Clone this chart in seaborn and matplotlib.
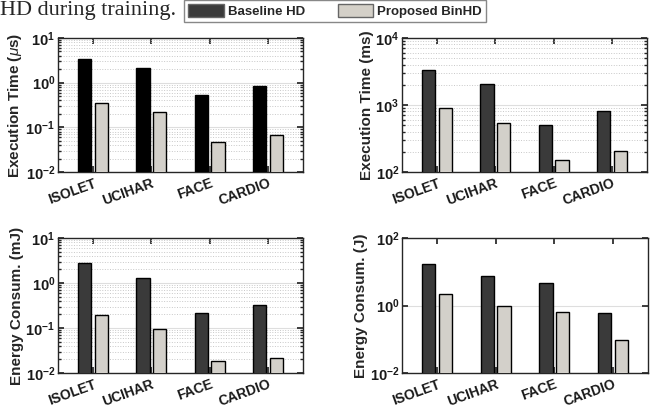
import matplotlib
matplotlib.use("Agg")
import matplotlib.pyplot as plt
import matplotlib.ticker as mticker
import matplotlib.transforms as mtransforms
from matplotlib.patches import Patch
import seaborn as sns
import pandas as pd
import numpy as np

categories = ["ISOLET", "UCIHAR", "FACE", "CARDIO"]
series = ["Baseline HD", "Proposed BinHD"]

exec_us_baseline = [3.4, 2.15, 0.52, 0.83]
exec_us_binhd = [0.345, 0.216, 0.047, 0.069]

exec_ms_baseline = [3350, 2065, 507, 803]
exec_ms_binhd = [900, 543, 150, 209]

energy_mj_baseline = [2.77, 1.26, 0.211, 0.319]
energy_mj_binhd = [0.191, 0.096, 0.0188, 0.022]

energy_j_baseline = [16.8, 7.73, 4.68, 0.598]
energy_j_binhd = [2.15, 0.99, 0.627, 0.092]

sns.set_theme(style="white")
plt.rcParams["font.family"] = ["Liberation Sans", "DejaVu Sans"]
plt.rcParams["mathtext.fontset"] = "custom"
plt.rcParams["mathtext.rm"] = "Liberation Sans"
plt.rcParams["mathtext.bf"] = "Liberation Sans:bold"
plt.rcParams["mathtext.it"] = "Liberation Sans:italic"

W, H = 656, 409
fig = plt.figure(figsize=(W / 100, H / 100), dpi=100)

def rect(l, r, t, b):
    return [l / W, (H - b) / H, (r - l) / W, (b - t) / H]

panels = [
    (rect(58, 303, 38, 172), exec_us_baseline, exec_us_binhd, (1e-2, 1e1), [-2, -1, 0, 1],
     r"Execution Time ($\mu$s)", "#000000", True),
    (rect(402, 647, 38, 172), exec_ms_baseline, exec_ms_binhd, (1e2, 1e4), [2, 3, 4],
     "Execution Time (ms)", "#3a3a3a", True),
    (rect(58, 303, 238, 373), energy_mj_baseline, energy_mj_binhd, (1e-2, 1e1), [-2, -1, 0, 1],
     "Energy Consum. (mJ)", "#3a3a3a", True),
    (rect(402, 648, 238, 373), energy_j_baseline, energy_j_binhd, (1e-2, 1e2), [-2, 0, 2],
     "Energy Consum. (J)", "#3a3a3a", False),
]

light = "#d4d0c8"
shift = mtransforms.ScaledTranslation(5 / 100, 0, fig.dpi_scale_trans)

for pos, base, prop, ylim, exps, ylabel, dark, minor in panels:
    ax = fig.add_axes(pos)
    df = pd.DataFrame({
        "Dataset": categories * 2,
        "Series": [series[0]] * 4 + [series[1]] * 4,
        "Value": list(base) + list(prop),
    })
    ax.set_yscale("log")
    sns.barplot(data=df, x="Dataset", y="Value", hue="Series", order=categories,
                hue_order=series, palette=[dark, light], width=0.58, gap=0.21,
                edgecolor="black", linewidth=1.0, ax=ax, legend=False, zorder=3)
    ax.set_ylim(*ylim)
    ax.set_xlim(-0.6, 3.6)
    ax.set_yticks([10.0 ** e for e in exps])
    ax.yaxis.set_major_formatter(mticker.FuncFormatter(
        lambda v, p: r"$\mathbf{10^{%d}}$" % int(round(np.log10(v)))))
    if minor:
        ax.yaxis.set_minor_locator(mticker.LogLocator(base=10, subs=np.arange(2, 10)))
        ax.yaxis.set_minor_formatter(mticker.NullFormatter())
        ax.grid(True, which="minor", axis="y", color="#c8c8c8", linestyle=":", linewidth=0.7, zorder=0)
    else:
        ax.yaxis.set_minor_locator(mticker.NullLocator())
    ax.grid(True, which="major", axis="y", color="#dedede", linestyle="-", linewidth=0.8, zorder=0)
    ax.set_axisbelow(True)
    ax.set_xlabel("")
    ax.set_ylabel(ylabel, fontsize=11, fontweight="bold", labelpad=1)
    ax.set_xticks(range(len(categories)))
    ax.set_xticklabels(categories, rotation=20, fontsize=10, fontweight="bold",
                       ha="right", va="top", rotation_mode="anchor")
    for lab in ax.get_xticklabels():
        lab.set_transform(lab.get_transform() + shift)
    ax.tick_params(axis="both", which="both", direction="in", top=True, right=True,
                   bottom=True, left=True, colors="#262626", labelcolor="#1a1a1a")
    ax.tick_params(axis="y", which="major", length=4, labelsize=10.5, pad=2)
    ax.tick_params(axis="y", which="minor", length=2)
    ax.tick_params(axis="x", which="major", length=4, pad=3)
    for s in ax.spines.values():
        s.set_color("#262626")
        s.set_linewidth(1.0)

handles = [Patch(facecolor="#3a3a3a", edgecolor="#666666", label=series[0]),
           Patch(facecolor=light, edgecolor="#666666", label=series[1])]
leg = fig.legend(handles=handles, loc="upper left", bbox_to_anchor=(184 / W, 1.0),
                 ncol=2, frameon=True, fancybox=False, framealpha=1,
                 prop={"weight": "bold", "size": 9.5}, handlelength=2.7,
                 handleheight=1.2, columnspacing=2.5, borderpad=0.3,
                 handletextpad=0.3, borderaxespad=0)
leg.get_frame().set_edgecolor("#888888")
leg.get_frame().set_linewidth(1.0)

fig.text(0.0, 1.0 - 15 / H, "HD during training.", family="Liberation Serif",
         fontsize=16, ha="left", va="baseline")

fig.savefig("out.png", dpi=100)
